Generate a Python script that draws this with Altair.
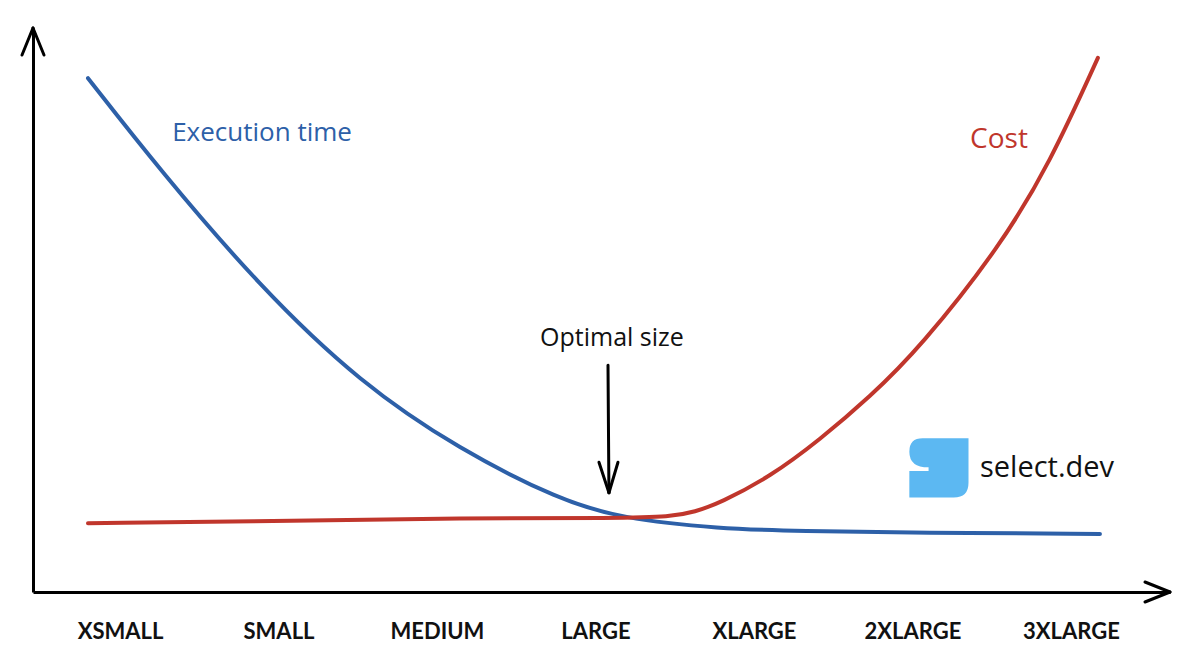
import altair as alt
import pandas as pd

sizes = ["XSMALL", "SMALL", "MEDIUM", "LARGE", "XLARGE", "2XLARGE", "3XLARGE"]

# curve samples: x in size-index units, y in relative units (0-100)
exec_x = [-0.202, 0.252, 0.883, 1.514, 2.145, 2.776, 3.155, 3.785, 4.290, 5.047, 6.183]
exec_y = [91.1, 74.8, 54.1, 37.1, 25.2, 16.3, 13.1, 11.2, 10.8, 10.5, 10.3]

cost_x = [-0.202, 1.136, 2.145, 3.155, 3.470, 3.628, 3.785, 4.101, 4.416, 4.732, 5.047, 5.552, 5.868, 6.170]
cost_y = [12.2, 12.6, 13.1, 13.1, 13.3, 14.2, 15.8, 20.4, 27.0, 34.6, 43.3, 61.2, 76.1, 94.7]

BLUE = "#2d60a8"
RED = "#c0362c"
LOGO = "#5cb8f2"

X_MIN, X_MAX = -0.549, 6.625
Y_MIN, Y_MAX = 0, 100

xs = alt.Scale(domain=[X_MIN, X_MAX], nice=False, zero=False)
ys = alt.Scale(domain=[Y_MIN, Y_MAX], nice=False, zero=False)

df_exec = pd.DataFrame({"x": exec_x, "y": exec_y})
df_cost = pd.DataFrame({"x": cost_x, "y": cost_y})

label_expr = "[" + ",".join("'%s'" % s for s in sizes) + "][datum.value]"

base_x = alt.X("x:Q", scale=xs, axis=alt.Axis(
    values=list(range(len(sizes))), labelExpr=label_expr, title=None,
    ticks=False, grid=False, domainColor="black", domainWidth=3,
    labelFont="Lato", labelFontSize=22, labelFontWeight="bold",
    labelColor="#111", labelPadding=39, labelBaseline="middle"))
base_y = alt.Y("y:Q", scale=ys, axis=alt.Axis(
    labels=False, ticks=False, grid=False, title=None,
    domainColor="black", domainWidth=3))

exec_line = alt.Chart(df_exec).mark_line(
    color=BLUE, strokeWidth=4, interpolate="basis", strokeCap="round"
).encode(x=base_x, y=base_y)

cost_line = alt.Chart(df_cost).mark_line(
    color=RED, strokeWidth=4, interpolate="basis", strokeCap="round"
).encode(x=alt.X("x:Q", scale=xs), y=alt.Y("y:Q", scale=ys))

# axis arrowheads and the "optimal size" arrow
wx = 11 / 158.5
wy = 27 / 5.64
hx = 25 / 158.5
hy = 10 / 5.64
arrows = pd.DataFrame({
    "x":  [X_MIN, X_MIN, X_MAX, X_MAX, 3.079, 3.022, 3.142],
    "y":  [Y_MAX, Y_MAX, 0, 0, 40.2, 23.0, 23.0],
    "x2": [X_MIN - wx, X_MIN + wx, X_MAX - hx, X_MAX - hx, 3.085, 3.085, 3.085],
    "y2": [Y_MAX - wy, Y_MAX - wy, hy, -hy, 17.6, 17.6, 17.6],
})
arrow_rules = alt.Chart(arrows).mark_rule(
    color="black", strokeWidth=3, strokeCap="round", clip=False
).encode(
    x=alt.X("x:Q", scale=xs), y=alt.Y("y:Q", scale=ys),
    x2="x2:Q", y2="y2:Q")

texts = pd.DataFrame({
    "x": [0.896, 5.546, 3.104],
    "y": [81.4, 80.1, 45.0],
    "t": ["Execution time", "Cost", "Optimal size"],
    "c": [BLUE, RED, "#111111"],
    "s": [26, 28, 25],
})
text_marks = alt.Chart(texts).mark_text(
    font="Open Sans", align="center", baseline="middle"
).encode(
    x=alt.X("x:Q", scale=xs), y=alt.Y("y:Q", scale=ys),
    text="t:N", color=alt.Color("c:N", scale=None),
    size=alt.Size("s:Q", scale=None))

logo_path = ("M -1,-0.55 Q -1,-1 -0.55,-1 L 1,-1 L 1,0.5 Q 1,1 0.5,1 L -1,1 "
             "L -1,0.1 L -0.35,0.1 L -0.35,-0.02 Q -1,-0.02 -1,-0.55 Z")
logo_df = pd.DataFrame({"x": [5.167], "y": [22.0]})
logo = alt.Chart(logo_df).mark_point(
    shape=logo_path, filled=True, fill=LOGO, strokeWidth=0, size=3500, opacity=1
).encode(x=alt.X("x:Q", scale=xs), y=alt.Y("y:Q", scale=ys))

brand_df = pd.DataFrame({"x": [5.426], "y": [22.0], "t": ["select.dev"]})
brand = alt.Chart(brand_df).mark_text(
    font="Open Sans", fontSize=29, align="left", baseline="middle", color="#111"
).encode(x=alt.X("x:Q", scale=xs), y=alt.Y("y:Q", scale=ys), text="t:N")

chart = alt.layer(exec_line, cost_line, arrow_rules, text_marks, logo, brand).properties(
    width=1137, height=564,
    autosize=alt.AutoSizeParams(type="none"),
    padding={"left": 25, "top": 20, "right": 22, "bottom": 66},
    background="white",
).configure_view(stroke=None)

chart.save("out.html", embed_options={"renderer": "svg", "actions": False})
